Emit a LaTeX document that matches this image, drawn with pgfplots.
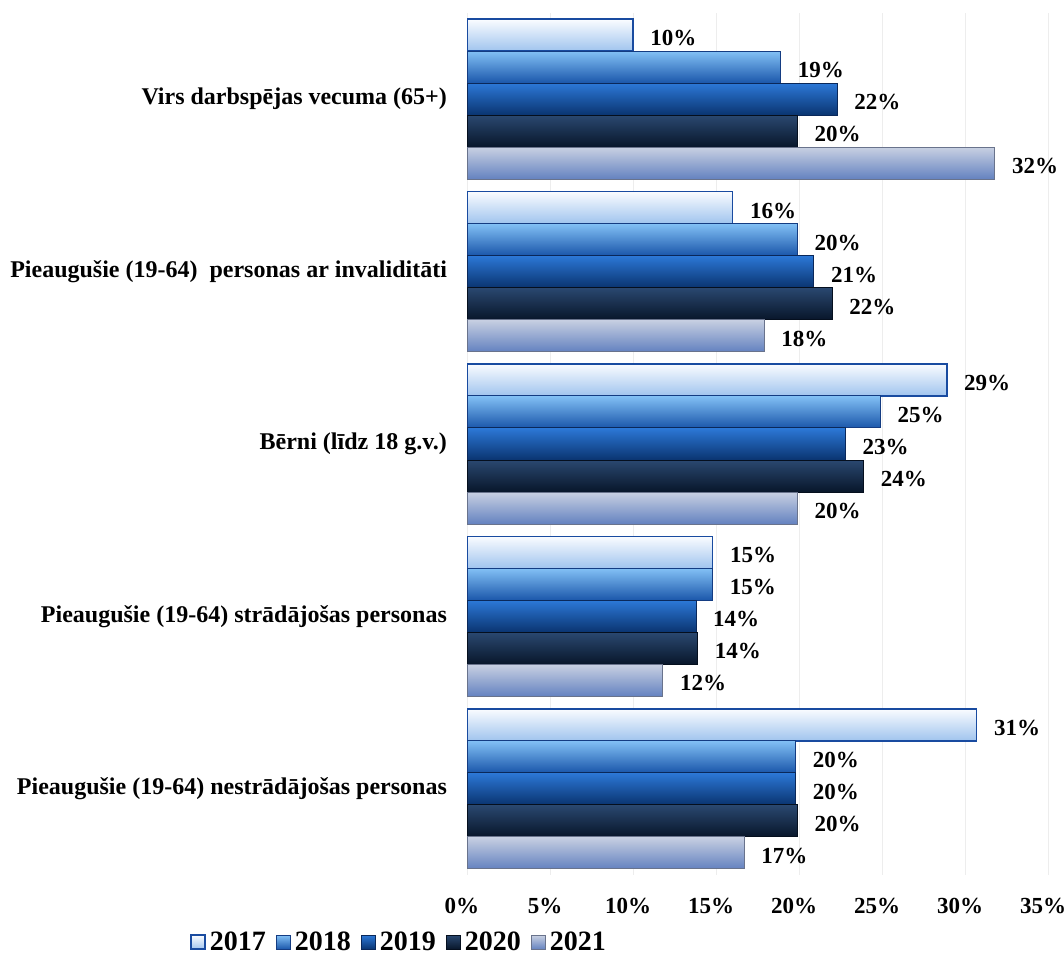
\documentclass[border=0pt]{standalone}
\usepackage{fontspec}
\setmainfont{Liberation Serif}
\usepackage{pgfplots}
\pgfplotsset{compat=1.18}
\definecolor{cA1}{RGB}{250,252,255}
\definecolor{cA2}{RGB}{228,238,252}
\definecolor{cA3}{RGB}{160,196,238}
\definecolor{cAd}{RGB}{25,75,160}
\definecolor{cB1}{RGB}{130,192,245}
\definecolor{cB2}{RGB}{58,134,220}
\definecolor{cB3}{RGB}{26,86,170}
\definecolor{cBd}{RGB}{20,60,130}
\definecolor{cC1}{RGB}{44,120,215}
\definecolor{cC2}{RGB}{22,88,180}
\definecolor{cC3}{RGB}{10,52,112}
\definecolor{cCd}{RGB}{10,40,90}
\definecolor{cD1}{RGB}{42,72,112}
\definecolor{cD2}{RGB}{16,38,68}
\definecolor{cD3}{RGB}{8,22,42}
\definecolor{cDd}{RGB}{5,15,30}
\definecolor{cE1}{RGB}{200,208,226}
\definecolor{cE2}{RGB}{128,129,140}
\definecolor{cE3}{RGB}{100,130,192}
\definecolor{cEd}{RGB}{105,115,140}
\newcommand{\lblfont}{\bfseries\fontsize{11.5}{13}\selectfont}
\newcommand{\catfont}{\bfseries\fontsize{12}{14}\selectfont}
\pgfplotsset{
  c17/.style={draw=cAd, line width=0.8pt, top color=cA1, middle color=cA2, bottom color=cA3},
  c18/.style={draw=cBd, line width=0.5pt, top color=cB1, middle color=cB2, bottom color=cB3},
  c19/.style={draw=cCd, line width=0.5pt, top color=cC1, middle color=cC2, bottom color=cC3},
  c20/.style={draw=cDd, line width=0.5pt, top color=cD1, middle color=cD2, bottom color=cD3},
  c21/.style={draw=cEd, line width=0.5pt, top color=cE1, middle color=cE2, bottom color=cE3},
}
\newcommand{\bb}[5]{\addplot[xbar, bar width=16pt, bar shift=#2, #1, forget plot,
  every node near coord/.append style={yshift=#2}] coordinates {(#3,#4) [#5]};}
\begin{document}
\begin{tikzpicture}
\useasboundingbox (0,0) rectangle (532pt,477pt);
\begin{axis}[
  at={(233.5pt,39.5pt)}, anchor=south west,
  scale only axis, width=290.5pt, height=431pt,
  xmin=0, xmax=35, ymin=-0.5, ymax=4.5,
  xtick={0,5,...,35},
  xticklabels={0\%,5\%,10\%,15\%,20\%,25\%,30\%,35\%},
  ytick={0,1,2,3,4},
  yticklabels={Pieaugušie (19-64) nestrādājošas personas,Pieaugušie (19-64) strādājošas personas,Bērni (līdz 18 g.v.),Pieaugušie (19-64)\ \ personas ar invaliditāti,Virs darbspējas vecuma (65+)},
  xmajorgrids, major grid style={black!7},
  axis line style={draw=none}, tick style={draw=none},
  xticklabel style={font=\lblfont, yshift=-8pt, xshift=-2.5pt},
  yticklabel style={font=\catfont, xshift=-6.5pt},
  nodes near coords={\pgfplotspointmeta\%},
  point meta=explicit symbolic,
  nodes near coords style={font=\lblfont, anchor=west, xshift=5pt, yshift=-1.5pt, text=black},
  legend style={at={(-0.115,-0.078)}, anchor=center, draw=none, fill=none,
    legend columns=5, font=\bfseries\fontsize{14}{16}\selectfont,
    /tikz/every even column/.append style={column sep=3pt}},
  legend image code/.code={\path[#1] (0pt,-3.5pt) rectangle (7pt,3.5pt);},
]
% 2017
\bb{c17}{32pt}{10.0}{4}{10}
\bb{c17}{32pt}{16.0}{3}{16}
\bb{c17}{32pt}{28.9}{2}{29}
\bb{c17}{32pt}{14.8}{1}{15}
\bb{c17}{32pt}{30.7}{0}{31}
% 2018
\bb{c18}{16pt}{18.9}{4}{19}
\bb{c18}{16pt}{19.9}{3}{20}
\bb{c18}{16pt}{24.9}{2}{25}
\bb{c18}{16pt}{14.8}{1}{15}
\bb{c18}{16pt}{19.8}{0}{20}
% 2019
\bb{c19}{0pt}{22.3}{4}{22}
\bb{c19}{0pt}{20.9}{3}{21}
\bb{c19}{0pt}{22.8}{2}{23}
\bb{c19}{0pt}{13.8}{1}{14}
\bb{c19}{0pt}{19.8}{0}{20}
% 2020
\bb{c20}{-16pt}{19.9}{4}{20}
\bb{c20}{-16pt}{22.0}{3}{22}
\bb{c20}{-16pt}{23.9}{2}{24}
\bb{c20}{-16pt}{13.9}{1}{14}
\bb{c20}{-16pt}{19.9}{0}{20}
% 2021
\bb{c21}{-32pt}{31.8}{4}{32}
\bb{c21}{-32pt}{17.9}{3}{18}
\bb{c21}{-32pt}{19.9}{2}{20}
\bb{c21}{-32pt}{11.8}{1}{12}
\bb{c21}{-32pt}{16.7}{0}{17}
\addlegendimage{c17}\addlegendentry{2017}
\addlegendimage{c18}\addlegendentry{2018}
\addlegendimage{c19}\addlegendentry{2019}
\addlegendimage{c20}\addlegendentry{2020}
\addlegendimage{c21}\addlegendentry{2021}
\end{axis}
\end{tikzpicture}
\end{document}
